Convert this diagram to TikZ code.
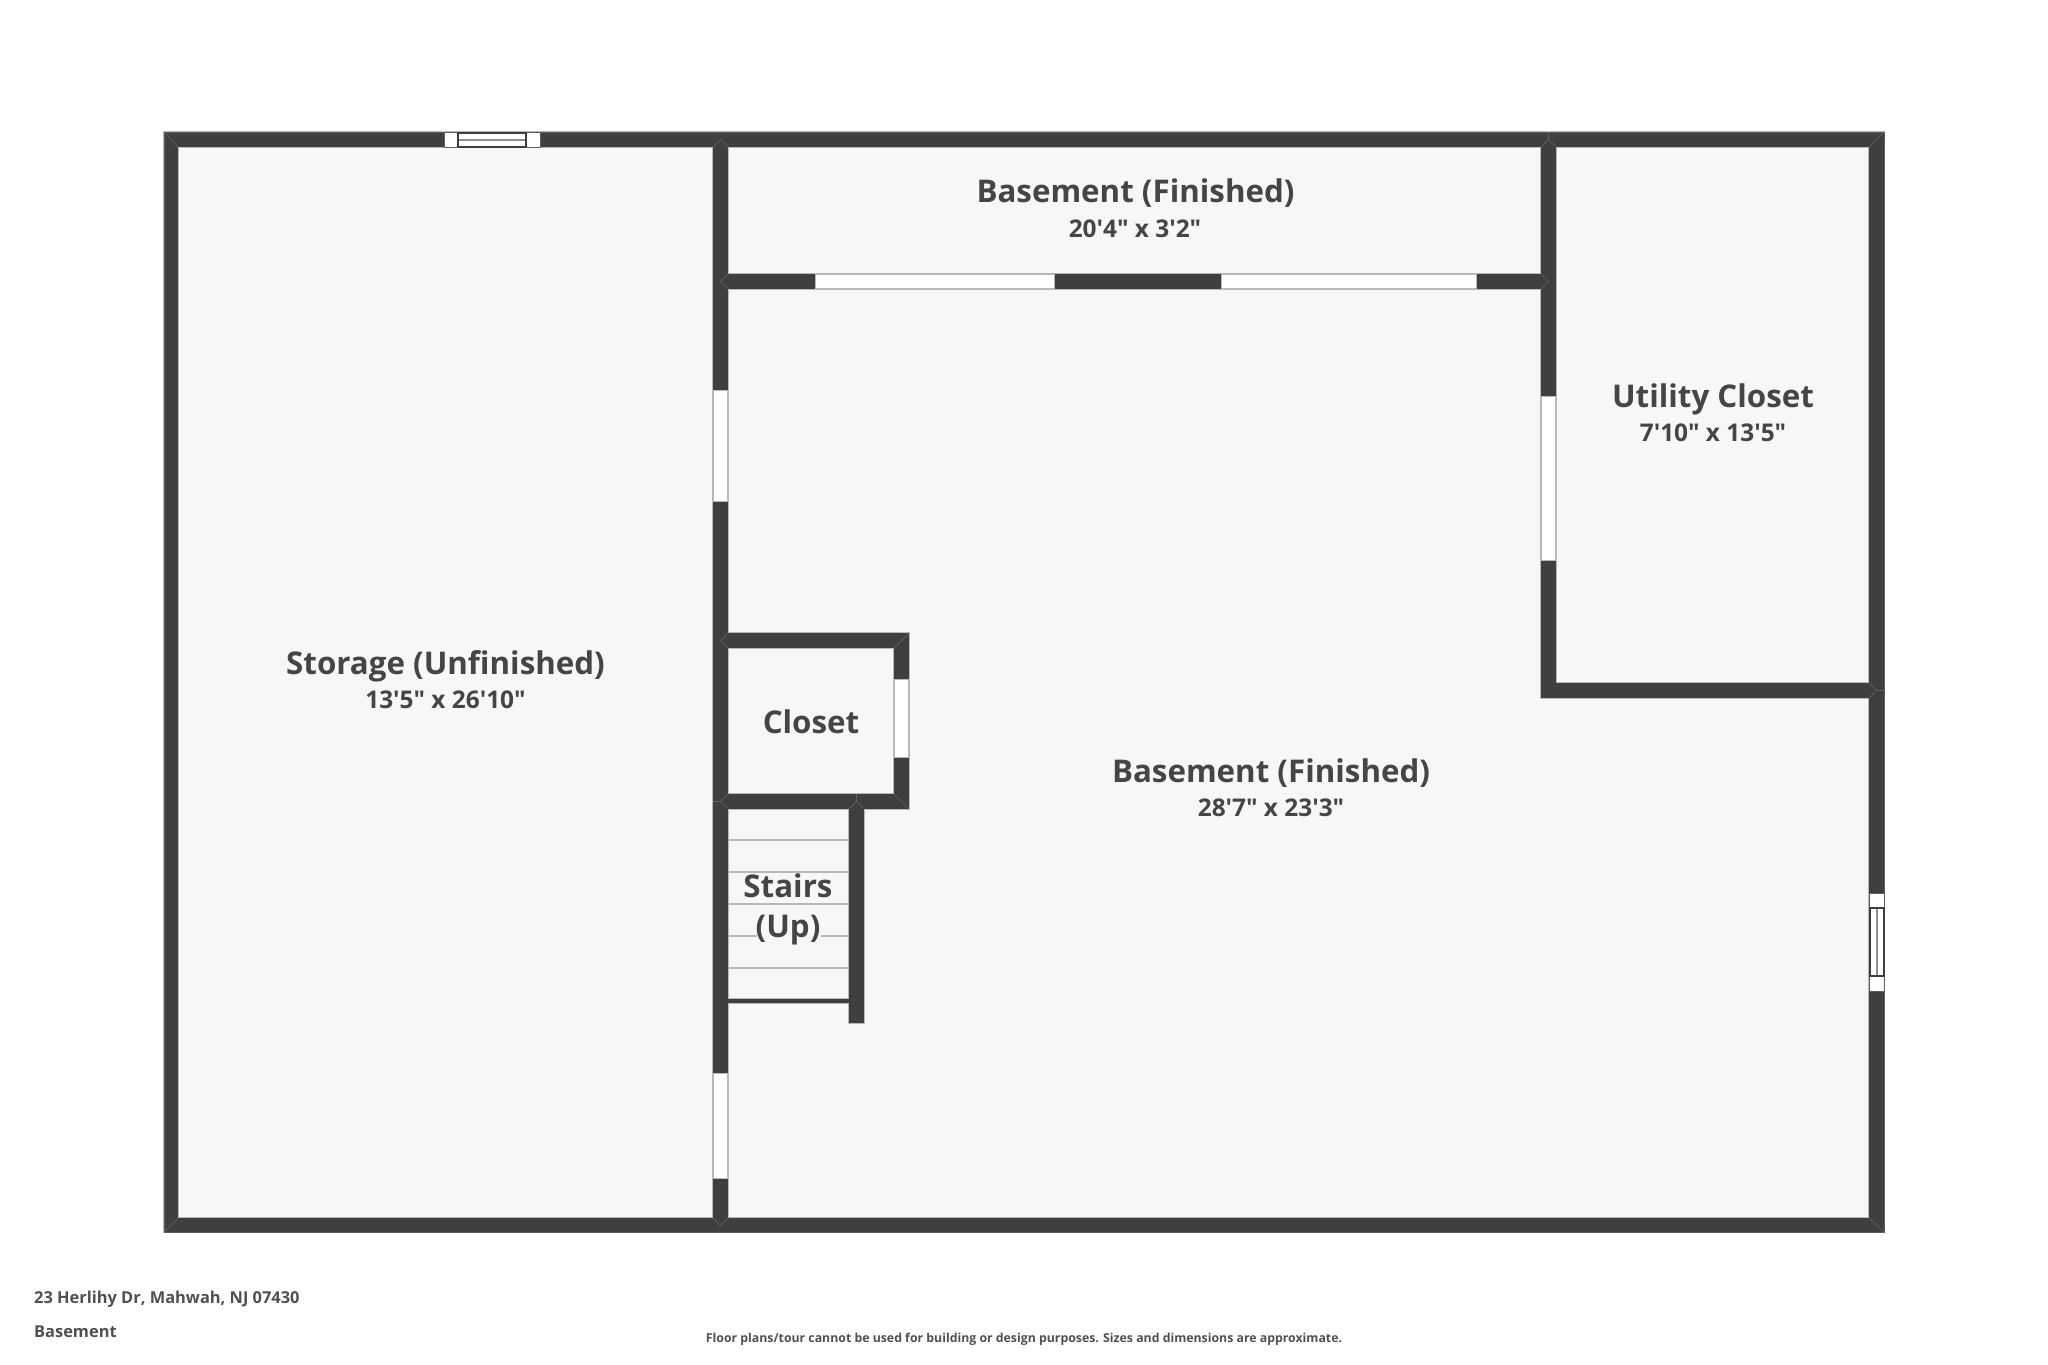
\documentclass[tikz,border=0pt]{standalone}
\usepackage{fontspec}
\setmainfont{Open Sans}[Ligatures=TeXOff]
\definecolor{wall}{HTML}{3F3F3F}
\definecolor{floorc}{HTML}{F7F7F7}
\definecolor{txt}{HTML}{454545}
\definecolor{edgec}{HTML}{B8B8B8}
\definecolor{miter}{HTML}{606060}
\definecolor{foot}{HTML}{505050}
\def\wallrects{164/132/1884/147, 164/132/178/1232, 1869/132/1884/1232, 164/1218/1884/1232,
 713/132/728/1232, 1541/132/1556/698, 1541/683/1884/698, 713/274/1556/289,
 713/633/909/648, 894/633/909/809, 713/794/909/809, 849/794/864/1023, 728/999/849/1003}
\tikzset{
  title/.style={font=\fontsize{31.3}{36}\selectfont\bfseries,text=txt,inner sep=0pt,anchor=center},
  dims/.style={font=\fontsize{24.4}{28}\selectfont\bfseries,text=txt,inner sep=0pt,anchor=center},
  footl/.style={font=\fontsize{16.4}{20}\selectfont\bfseries,text=foot,inner sep=0pt,anchor=west},
  footc/.style={font=\fontsize{12.3}{14}\selectfont\bfseries,text=foot,inner sep=0pt,anchor=center},
  opening/.style={fill=white,draw=edgec,line width=.8pt},
  winedge/.style={draw=wall,line width=1.2pt},
  winmid/.style={draw=miter!70,line width=2pt},
  tread/.style={draw=edgec,line width=1.4pt},
  mitreline/.style={draw=miter,line width=.7pt}
}
\begin{document}
\begin{tikzpicture}[x=1pt,y=-1pt]
\useasboundingbox (0,0) rectangle (2048,1365);
\fill[white] (0,0) rectangle (2048,1365);
\fill[floorc] (164,132) rectangle (1884,1232);
% stair treads
\foreach \y in {840,872,904,968} \draw[tread] (728,\y) -- (849,\y);
\draw[tread] (728,936) -- (757,936) (821,936) -- (849,936);
% wall edges, then wall bodies
\foreach \a/\b/\c/\d in \wallrects \draw[edgec,line width=1.6pt] (\a,\b) rectangle (\c,\d);
\foreach \a/\b/\c/\d in \wallrects \fill[wall] (\a,\b) rectangle (\c,\d);
\draw[miter,line width=.9pt] (164,132) rectangle (1884,1232);
% mitre joints
\draw[mitreline] (164,132) -- (178,147) (1884,132) -- (1869,147) (164,1232) -- (178,1218) (1884,1232) -- (1869,1218);
\draw[mitreline] (728,633) -- (720.5,640.5) -- (728,648);
\draw[mitreline] (728,794) -- (720.5,801.5) -- (728,809) (713,801.5) -- (720.5,801.5);
\draw[mitreline] (728,274) -- (720.5,281.5) -- (728,289);
\draw[mitreline] (894,648) -- (909,633) (894,794) -- (909,809);
\draw[mitreline] (849,809) -- (856.5,801.5) -- (864,809) (856.5,794) -- (856.5,801.5);
\draw[mitreline] (1541,147) -- (1548.5,139.5) -- (1556,147) (1548.5,132) -- (1548.5,139.5);
\draw[mitreline] (1541,274) -- (1548.5,281.5) -- (1541,289);
\draw[mitreline] (1869,683) -- (1876.5,690.5) -- (1869,698) (1876.5,690.5) -- (1884,690.5);
\draw[mitreline] (713,147) -- (720.5,139.5) -- (728,147);
\draw[mitreline] (713,1218) -- (720.5,1225.5) -- (728,1218);
% door openings
\draw[opening] (713.5,390) rectangle (727.5,501);
\draw[opening] (713.5,1073) rectangle (727.5,1178);
\draw[opening] (815,274.5) rectangle (1054,288.5);
\draw[opening] (1221,274.5) rectangle (1476,288.5);
\draw[opening] (1541.5,396) rectangle (1555.5,560);
\draw[opening] (894.5,679) rectangle (908.5,757);
% window, top wall
\draw[opening,draw=miter] (444,132.5) rectangle (540,147);
\draw[winmid] (458,140) -- (526,140);
\draw[winedge] (458,133) rectangle (526,147);
% window, right wall
\draw[opening,draw=miter] (1869.5,893) rectangle (1884,991);
\draw[winmid] (1877,908) -- (1877,976);
\draw[winedge] (1870,908) rectangle (1884,976);
% labels
\node[title] (t1) at (1135.5,193.5) {Basement (Finished)};
\node[dims] (d1) at (1135,229) {20'4" x 3'2"};
\node[title] (t2) at (445.5,666.5) {Storage (Unfinished)};
\node[dims] (d2) at (445.5,700) {13'5" x 26'10"};
\node[title] (t3) at (1713,399) {Utility Closet};
\node[dims] (d3) at (1713,433) {7'10" x 13'5"};
\node[title] (t4) at (811,721.5) {Closet};
\node[title] (t5) at (1271,773.5) {Basement (Finished)};
\node[dims] (d5) at (1271,808) {28'7" x 23'3"};
\node[title] (t6) at (788,885.5) {Stairs};
\node[title] (t7) at (788,930) {(Up)};
\node[footl] (f1) at (34,1299) {23 Herlihy Dr, Mahwah, NJ 07430};
\node[footl] (f2) at (34,1332) {Basement};
\node[footc] (f3) at (1024,1339) {Floor plans/tour cannot be used for building or design purposes. Sizes and dimensions are approximate.};
\end{tikzpicture}
\end{document}
